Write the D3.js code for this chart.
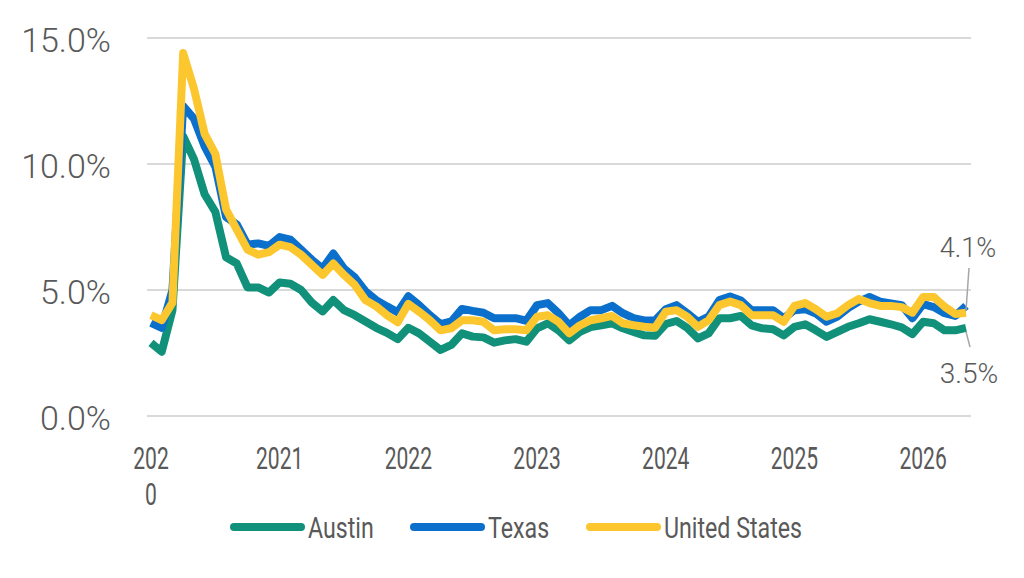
<!DOCTYPE html>
<html>
<head>
<meta charset="utf-8">
<script src="https://cdn.jsdelivr.net/npm/d3@7"></script>
<style>
  html, body { margin: 0; padding: 0; background: #ffffff; }
  svg { display: block; }
</style>
</head>
<body>
<svg id="chart" width="1024" height="578"></svg>
<script>
// ---- data (monthly, Jan 2020 – May 2026) ----
const seriesNames = ["Austin", "Texas", "United States"];
const yearLabels = ["2020", "2021", "2022", "2023", "2024", "2025", "2026"];
const yTicks = [0, 5, 10, 15];

const austin = [
  2.9, 2.55, 4.2, 11.1, 10.2, 8.8, 8.1, 6.3, 6.05, 5.1, 5.1, 4.9,
  5.3, 5.25, 5.0, 4.5, 4.15, 4.6, 4.2, 4.0, 3.75, 3.5, 3.3, 3.05,
  3.5, 3.28, 2.95, 2.62, 2.82, 3.28, 3.15, 3.12, 2.91, 3.0, 3.05, 2.95,
  3.48, 3.68, 3.4, 3.0, 3.34, 3.53, 3.6, 3.68, 3.48, 3.34, 3.2, 3.18,
  3.65, 3.77, 3.5, 3.08, 3.28, 3.88, 3.88, 3.97, 3.6, 3.48, 3.44, 3.2,
  3.54, 3.64, 3.4, 3.14, 3.34, 3.54, 3.68, 3.84, 3.74, 3.64, 3.52, 3.25,
  3.74, 3.68, 3.4, 3.4, 3.5
];
const texas = [
  3.7, 3.5, 5.0, 12.3, 11.8, 10.7, 9.9, 7.9, 7.6, 6.8, 6.85, 6.75,
  7.1, 7.0, 6.6, 6.2, 5.85, 6.45, 5.85, 5.5, 4.95, 4.6, 4.35, 4.12,
  4.75, 4.4, 4.0, 3.65, 3.75, 4.25, 4.17, 4.1, 3.88, 3.88, 3.88, 3.78,
  4.4, 4.48, 4.08, 3.6, 3.94, 4.2, 4.2, 4.37, 4.08, 3.88, 3.79, 3.79,
  4.24, 4.4, 4.08, 3.74, 3.94, 4.6, 4.74, 4.58, 4.2, 4.2, 4.2, 3.88,
  4.2, 4.24, 4.07, 3.74, 3.94, 4.28, 4.54, 4.72, 4.54, 4.47, 4.4, 3.88,
  4.44, 4.32, 4.08, 3.97, 4.37
];
const unitedStates = [
  4.0, 3.8, 4.5, 14.4, 13.0, 11.2, 10.4, 8.2, 7.4, 6.6, 6.4, 6.5,
  6.8, 6.7, 6.4, 6.0, 5.6, 6.05, 5.6, 5.2, 4.6, 4.35, 4.0, 3.72,
  4.45, 4.14, 3.8, 3.4, 3.48, 3.8, 3.8, 3.74, 3.4, 3.44, 3.44, 3.4,
  3.94, 4.0, 3.74, 3.28, 3.6, 3.8, 3.88, 3.97, 3.68, 3.6, 3.54, 3.5,
  4.14, 4.2, 3.94, 3.54, 3.8, 4.4, 4.54, 4.4, 4.0, 4.0, 4.0, 3.74,
  4.37, 4.48, 4.24, 3.94, 4.08, 4.4, 4.64, 4.48, 4.37, 4.37, 4.32, 4.1,
  4.72, 4.72, 4.34, 4.05, 4.1
];
const endLabels = ["4.1%", "3.5%"];

// ---- styles ----
const colors = ["#11907a", "#0b6fcc", "#fcc62e"];
const textColor = "#595959";
const gridColor = "#d9d9d9";
const condensed = 0.68;

const svg = d3.select("#chart");
const n = austin.length;

const x = d3.scaleLinear().domain([0, n - 1]).range([151, 966]);
const y = d3.scaleLinear().domain([0, 15]).range([416, 38]);

// gridlines
svg.append("g").selectAll("line").data(yTicks).join("line")
  .attr("x1", 147).attr("x2", 971)
  .attr("y1", d => y(d)).attr("y2", d => y(d))
  .attr("stroke", gridColor).attr("stroke-width", 2);

// y axis labels
const yAxis = d3.axisLeft(y).tickValues(yTicks).tickSize(0).tickPadding(0)
  .tickFormat(d => d3.format(".1f")(d) + "%");
const yg = svg.append("g").attr("transform", "translate(111,0)").call(yAxis);
yg.select(".domain").remove();
yg.selectAll("text")
  .attr("fill", textColor)
  .attr("font-family", "Roboto, sans-serif")
  .attr("font-weight", 300)
  .attr("font-size", 34)
  .attr("dy", "0.40em");

// x axis labels (first one wraps)
const xg = svg.append("g");
yearLabels.forEach((lab, i) => {
  const g = xg.append("g")
    .attr("transform", `translate(${x(i * 12)},469) scale(${condensed},1)`);
  const t = g.append("text")
    .attr("x", 0).attr("y", 0)
    .attr("text-anchor", "middle")
    .attr("fill", textColor)
    .attr("font-family", "Roboto, sans-serif")
    .attr("font-weight", 400)
    .attr("font-size", 31);
  if (i === 0) {
    t.append("tspan").attr("x", 0).text(lab.slice(0, 3));
    t.append("tspan").attr("x", 0).attr("dy", 36).text(lab.slice(3));
  } else {
    t.text(lab);
  }
});

// lines
const line = d3.line().x((d, i) => x(i)).y(d => y(d));
const allSeries = [austin, texas, unitedStates];
svg.append("g").selectAll("path").data(allSeries).join("path")
  .attr("d", d => line(d))
  .attr("fill", "none")
  .attr("stroke", (d, i) => colors[i])
  .attr("stroke-width", 8)
  .attr("stroke-linejoin", "round")
  .attr("stroke-linecap", "butt");

// end labels with leader lines
const last = n - 1;
const lab = svg.append("g");
lab.append("line")
  .attr("x1", x(last) + 3).attr("y1", 268)
  .attr("x2", x(last)).attr("y2", y(unitedStates[last]) - 2)
  .attr("stroke", "#a6a6a6").attr("stroke-width", 1.5);
lab.append("line")
  .attr("x1", x(last)).attr("y1", y(austin[last]) + 4)
  .attr("x2", x(last) + 4).attr("y2", 347)
  .attr("stroke", "#a6a6a6").attr("stroke-width", 1.5);
lab.append("text")
  .attr("x", 968).attr("y", 257)
  .attr("text-anchor", "middle")
  .attr("fill", textColor)
  .attr("font-family", "Roboto, sans-serif")
  .attr("font-weight", 300)
  .attr("font-size", 27)
  .text(endLabels[0]);
lab.append("text")
  .attr("x", 969).attr("y", 383)
  .attr("text-anchor", "middle")
  .attr("fill", textColor)
  .attr("font-family", "Roboto, sans-serif")
  .attr("font-weight", 300)
  .attr("font-size", 28)
  .text(endLabels[1]);

// legend
const legendX = [230, 410, 586];
const lg = svg.append("g").selectAll("g").data(seriesNames).join("g")
  .attr("transform", (d, i) => `translate(${legendX[i]},527)`);
lg.append("line")
  .attr("x1", 4).attr("x2", 71).attr("y1", 0).attr("y2", 0)
  .attr("stroke", (d, i) => colors[i])
  .attr("stroke-width", 8)
  .attr("stroke-linecap", "round");
lg.append("g")
  .attr("transform", "translate(78,11) scale(0.8,1)")
  .append("text")
  .attr("x", 0).attr("y", 0)
  .attr("fill", textColor)
  .attr("font-family", "Roboto, sans-serif")
  .attr("font-weight", 400)
  .attr("font-size", 29)
  .text(d => d);
</script>
</body>
</html>
